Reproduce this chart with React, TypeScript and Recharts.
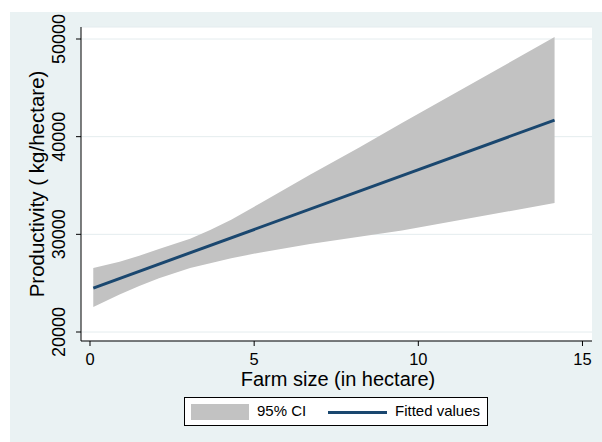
import * as React from 'react'
import { ComposedChart, Area, Line, XAxis, YAxis, CartesianGrid } from 'recharts'

// farm size (hectare) where the 95% CI band was read
const bandX = [0.1, 0.9, 1.5, 2.1, 3.05, 3.66, 4.3, 5.2, 6.7, 8.2, 9.5, 14.15]
const bandLow = [22550, 23850, 24700, 25500, 26550, 27050, 27550, 28150, 29000, 29750, 30400, 33200]
const bandHigh = [26550, 27200, 27800, 28500, 29550, 30450, 31500, 33200, 36100, 38900, 41400, 50200]

// fitted values (straight line)
const fitX = [0.1, 14.15]
const fitY = [24500, 41700]

const xTicks = [0, 5, 10, 15]
const yTicks = [20000, 30000, 40000, 50000]

const FONT = '"Liberation Sans", Arial, Helvetica, sans-serif'
const BG = '#EAF2F3'
const CI_COLOR = '#C2C2C2'
const FIT_COLOR = '#1A476F'

const bandData = bandX.map((x, i) => ({ x, band: [bandLow[i], bandHigh[i]] }))
const fitData = fitX.map((x, i) => ({ x, fit: fitY[i] }))

function XTick(props: any) {
  const { x, payload } = props
  return (
    <text x={x} y={365} textAnchor="middle" fontFamily={FONT} fontSize={16.5} fill="#000">
      {payload.value}
    </text>
  )
}

function YTick(props: any) {
  const { y, payload } = props
  return (
    <text x={65} y={y} transform={`rotate(-90, 65, ${y})`} textAnchor="middle" fontFamily={FONT} fontSize={18} fill="#000">
      {payload.value}
    </text>
  )
}

export default function App() {
  return (
    <div style={{ position: 'absolute', left: 0, top: 0, width: 602, height: 442, background: '#fff', fontFamily: FONT }}>
      <div style={{ position: 'absolute', left: 10, top: 12, width: 592, height: 430, background: BG }} />
      <div style={{ position: 'absolute', left: 0, top: 0 }}>
        <ComposedChart width={602} height={442} margin={{ top: 27, right: 10, left: 10, bottom: 11 }}>
          <CartesianGrid vertical={false} stroke="#E4ECEE" fill="#fff" strokeWidth={1} />
          <XAxis
            type="number"
            dataKey="x"
            domain={[-0.274, 15.29]}
            ticks={xTicks}
            allowDataOverflow
            height={90}
            tickSize={5}
            stroke="#000"
            tick={<XTick />}
          />
          <YAxis
            type="number"
            domain={[19079, 51229]}
            ticks={yTicks}
            allowDataOverflow
            width={71}
            tickSize={5}
            stroke="#000"
            tick={<YTick />}
          />
          <Area
            data={bandData}
            dataKey="band"
            type="linear"
            fill={CI_COLOR}
            fillOpacity={1}
            stroke="none"
            isAnimationActive={false}
            activeDot={false}
          />
          <Line
            data={fitData}
            dataKey="fit"
            type="linear"
            stroke={FIT_COLOR}
            strokeWidth={3}
            dot={false}
            activeDot={false}
            isAnimationActive={false}
          />
          <text x={44} y={184} transform="rotate(-90, 44, 184)" textAnchor="middle" fontFamily={FONT} fontSize={20.5} fill="#000">
            Productivity ( kg/hectare)
          </text>
          <text x={338} y={386} textAnchor="middle" fontFamily={FONT} fontSize={20} fill="#000">
            Farm size (in hectare)
          </text>
        </ComposedChart>
      </div>
      <div
        style={{
          position: 'absolute', left: 184, top: 397, width: 302, height: 27,
          background: '#fff', border: '1px solid #000', fontSize: 15, color: '#000',
        }}
      >
        <div style={{ position: 'absolute', left: 6, top: 6, width: 58, height: 16, background: CI_COLOR }} />
        <div style={{ position: 'absolute', left: 72, top: 4, lineHeight: '18px' }}>95% CI</div>
        <div style={{ position: 'absolute', left: 143, top: 13, width: 59, height: 3, background: FIT_COLOR }} />
        <div style={{ position: 'absolute', left: 210, top: 4, lineHeight: '18px' }}>Fitted values</div>
      </div>
    </div>
  )
}
